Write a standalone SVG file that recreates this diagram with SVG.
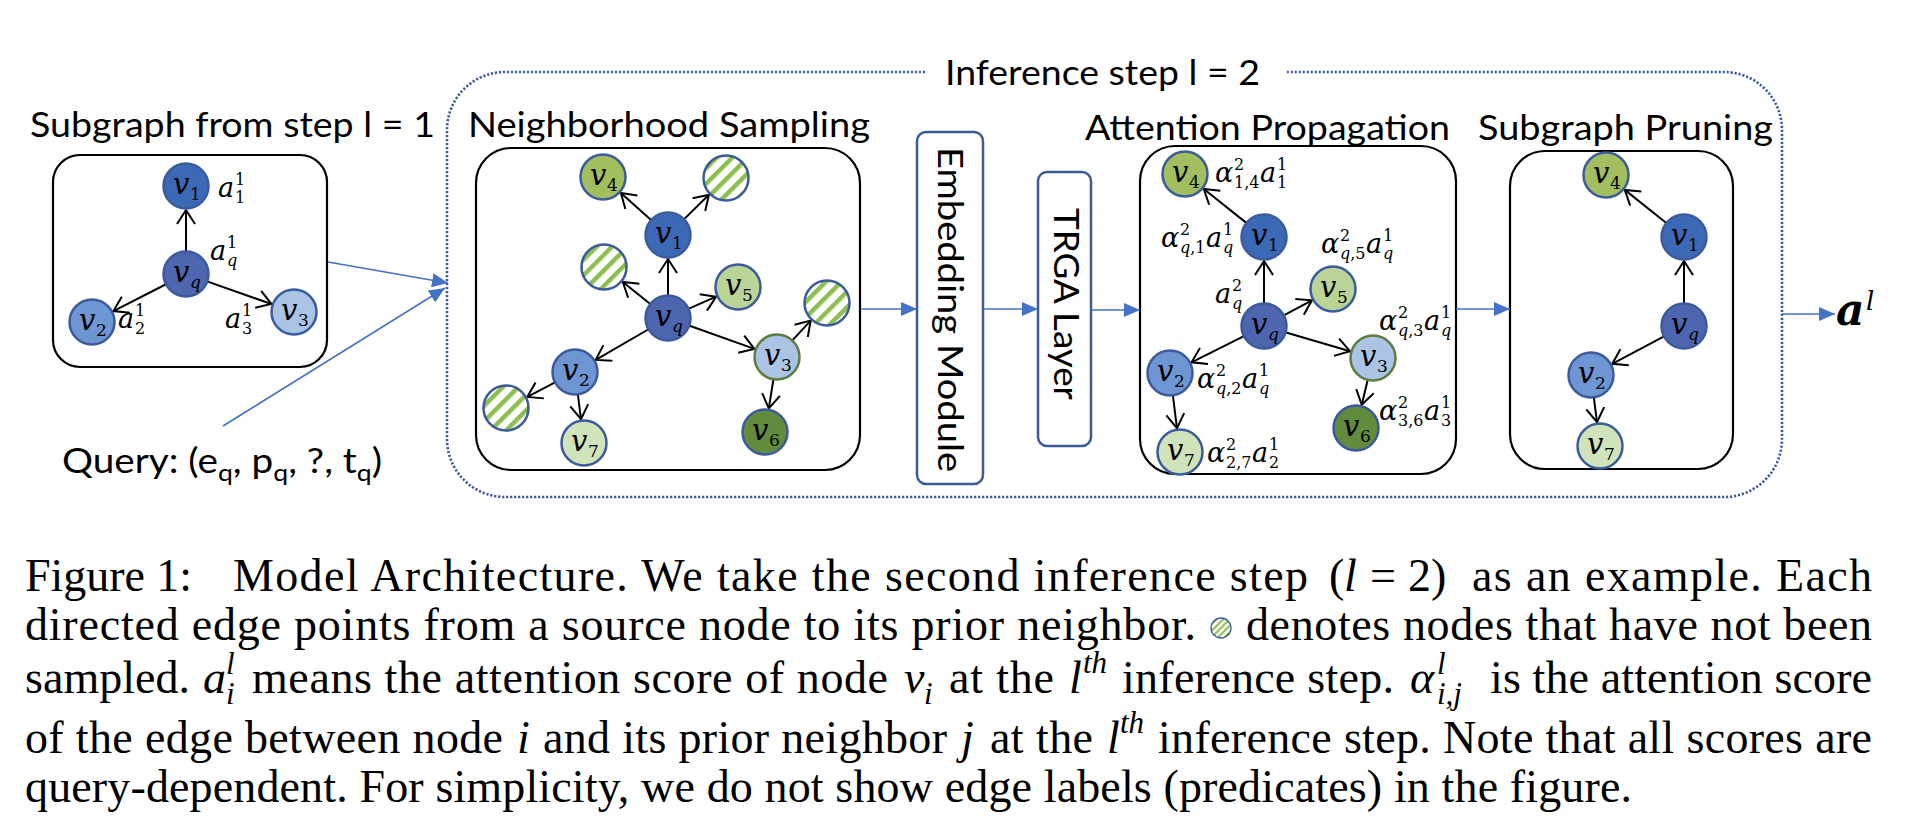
<svg xmlns="http://www.w3.org/2000/svg" width="1906" height="832" viewBox="0 0 1906 832">
<style>
.ttl{font-family:Lato,"Open Sans","Liberation Sans",sans-serif;font-size:35px;fill:#000}
.box{fill:none;stroke:#000;stroke-width:2.2}
.mod{fill:#fff;stroke:#3b5a9a;stroke-width:2.5}
.dash{fill:none;stroke:#3f5a98;stroke-width:2.6;stroke-dasharray:2.2 1.8}
.e{stroke:#000;stroke-width:2;fill:none;marker-end:url(#oh)}
.bl{stroke:#4472c4;stroke-width:1.6;fill:none;marker-end:url(#bh)}
.nd{stroke:#3b5b9d;stroke-width:2.5}
.g3{stroke:#5d7d3f}
.f1{fill:#3c69b5}.fq{fill:#4e65b0}.f2{fill:#6e96d2}.f3{fill:#abc4e5}.f4{fill:#a3be5e}.f5{fill:#bad497}.f6{fill:#628b3e}.f7{fill:#d0e3bb}.fh{fill:url(#hatch)}
.nv{font-family:"DejaVu Serif",serif;font-style:italic;font-size:29px;fill:#000}
.ns{font-family:"DejaVu Serif",serif;font-size:17px;fill:#000}
.mb{font-family:"DejaVu Serif",serif;font-style:italic;font-size:27px;fill:#000}
.ms{font-family:"DejaVu Serif",serif;font-size:16px;fill:#000}
.it{font-style:italic}
.cap{font-family:"Liberation Serif","Times New Roman",serif;font-size:46px;fill:#000}
.capi{font-family:"Liberation Serif","Times New Roman",serif;font-size:46px;font-style:italic;fill:#000}
.caps{font-family:"Liberation Serif","Times New Roman",serif;font-size:31px;font-style:italic;fill:#000}
</style>
<defs>
<pattern id="hatch" patternUnits="userSpaceOnUse" width="11" height="11" patternTransform="rotate(45)">
<rect x="0" y="0" width="11" height="11" fill="#fff"/>
<rect x="0" y="0" width="4.5" height="11" fill="#8cbf4f"/>
</pattern>
<pattern id="hatchS" patternUnits="userSpaceOnUse" width="4.6" height="4.6" patternTransform="rotate(45)">
<rect x="0" y="0" width="4.6" height="4.6" fill="#fff"/>
<rect x="0" y="0" width="2" height="4.6" fill="#8cbf4f"/>
</pattern>
<marker id="oh" viewBox="0 0 16 20" refX="15" refY="10" markerWidth="16" markerHeight="20" markerUnits="userSpaceOnUse" orient="auto" overflow="visible">
<path d="M1,1 L15,10 L1,19" fill="none" stroke="#000" stroke-width="2"/>
</marker>
<marker id="bh" viewBox="0 0 16 14" refX="16" refY="7" markerWidth="16" markerHeight="14" markerUnits="userSpaceOnUse" orient="auto">
<path d="M0,0 L16,7 L0,14 z" fill="#4472c4"/>
</marker>
</defs>

<!-- Titles -->
<text class="ttl" x="30" y="137" textLength="405" lengthAdjust="spacingAndGlyphs">Subgraph from step l = 1</text>
<text class="ttl" x="468" y="137" textLength="402" lengthAdjust="spacingAndGlyphs">Neighborhood Sampling</text>
<text class="ttl" x="1085" y="140" textLength="365" lengthAdjust="spacingAndGlyphs">Attention Propagation</text>
<text class="ttl" x="1478" y="140" textLength="295" lengthAdjust="spacingAndGlyphs">Subgraph Pruning</text>
<text class="ttl" x="945" y="85" textLength="315" lengthAdjust="spacingAndGlyphs">Inference step l = 2</text>
<text class="ttl" x="62" y="473" textLength="320" lengthAdjust="spacingAndGlyphs">Query: (e<tspan font-size="24" dy="8">q</tspan><tspan dy="-8">, p</tspan><tspan font-size="24" dy="8">q</tspan><tspan dy="-8">, ?, t</tspan><tspan font-size="24" dy="8">q</tspan><tspan dy="-8">)</tspan></text>

<!-- Dotted inference frame -->
<path class="dash" d="M925,72 H505 A58,58 0 0 0 447,130 V439 A58,58 0 0 0 505,497 H1724 A58,58 0 0 0 1782,439 V130 A58,58 0 0 0 1724,72 H1287"/>

<!-- Boxes -->
<g id="box1"><rect class="box" x="53" y="155" width="274" height="212" rx="27"/></g>
<g id="box2"><rect class="box" x="476" y="148" width="384" height="322" rx="35"/></g>
<g id="box3"><rect class="box" x="1140" y="146" width="316" height="328" rx="35"/></g>
<g id="box4"><rect class="box" x="1510" y="151" width="223" height="318" rx="35"/></g>
<g id="embedding">
<rect class="mod" x="917" y="132" width="66" height="352" rx="9"/>
<text class="ttl" transform="translate(938,147) rotate(90)" x="0" y="0" textLength="325" lengthAdjust="spacingAndGlyphs">Embedding Module</text>
</g>
<g id="trga">
<rect class="mod" x="1038" y="172" width="53" height="274" rx="9"/>
<text class="ttl" transform="translate(1054,208) rotate(90)" x="0" y="0" textLength="192" lengthAdjust="spacingAndGlyphs">TRGA Layer</text>
</g>

<!-- Connectors -->
<g id="connectors">
<line class="bl" x1="328" y1="262" x2="448" y2="283"/>
<line class="bl" x1="223" y1="426" x2="445" y2="288"/>
<line class="bl" x1="861" y1="309" x2="917" y2="309"/>
<line class="bl" x1="983" y1="309" x2="1038" y2="309"/>
<line class="bl" x1="1091" y1="310" x2="1140" y2="310"/>
<line class="bl" x1="1456" y1="309" x2="1510" y2="309"/>
<line class="bl" x1="1782" y1="314" x2="1835" y2="314"/>
<line class="e" x1="186" y1="251" x2="186" y2="210"/>
<line class="e" x1="165.5" y1="284.5" x2="113.4" y2="311.1"/>
<line class="e" x1="207.7" y1="281.6" x2="271.4" y2="304"/>
<line class="e" x1="650.8" y1="219.7" x2="620.9" y2="193"/>
<line class="e" x1="684.4" y1="218.9" x2="708.9" y2="194.8"/>
<line class="e" x1="668" y1="295" x2="668" y2="259"/>
<line class="e" x1="650" y1="303.7" x2="622.8" y2="282"/>
<line class="e" x1="689" y1="308.7" x2="716.1" y2="296.7"/>
<line class="e" x1="648.1" y1="329.5" x2="595.8" y2="359.9"/>
<line class="e" x1="689.6" y1="325.8" x2="754.4" y2="348.9"/>
<line class="e" x1="792.6" y1="340.1" x2="810.7" y2="320.6"/>
<line class="e" x1="773.4" y1="379.7" x2="768.8" y2="408.3"/>
<line class="e" x1="554.6" y1="382.6" x2="527.3" y2="396.9"/>
<line class="e" x1="577.9" y1="394.8" x2="581" y2="419.2"/>
<line class="e" x1="1246" y1="222.6" x2="1203.8" y2="189"/>
<line class="e" x1="1264" y1="303" x2="1264" y2="261"/>
<line class="e" x1="1284.3" y1="315.1" x2="1311.9" y2="300.3"/>
<line class="e" x1="1243.4" y1="336.3" x2="1191.5" y2="362.3"/>
<line class="e" x1="1286.1" y1="332.5" x2="1350" y2="351.2"/>
<line class="e" x1="1367.6" y1="380.4" x2="1361.7" y2="404.7"/>
<line class="e" x1="1172.9" y1="395.8" x2="1177" y2="428.2"/>
<line class="e" x1="1666" y1="222.7" x2="1624.8" y2="189.9"/>
<line class="e" x1="1684" y1="303" x2="1684" y2="261"/>
<line class="e" x1="1663.6" y1="336.7" x2="1612.2" y2="363.8"/>
<line class="e" x1="1593.9" y1="397.8" x2="1597" y2="422.2"/>
</g>

<!-- Box 1 nodes -->
<g id="s1-v1"><circle class="nd f1" cx="186" cy="186" r="22.5"/><text class="nv" x="173" y="194">v</text><text class="ns" x="190" y="200">1</text></g>
<g id="s1-vq"><circle class="nd fq" cx="186" cy="274" r="22.5"/><text class="nv" x="173" y="282">v</text><text class="ns it" x="190" y="288">q</text></g>
<g id="s1-v2"><circle class="nd f2" cx="92" cy="322" r="22.5"/><text class="nv" x="79" y="330">v</text><text class="ns" x="96" y="336">2</text></g>
<g id="s1-v3"><circle class="nd f3" cx="294" cy="312" r="22.5"/><text class="nv" x="281" y="320">v</text><text class="ns" x="298" y="326">3</text></g>
<g id="s1-labels">
<text class="mb" x="218" y="197">a</text><text class="ms" x="235" y="185">1</text><text class="ms" x="235" y="203">1</text>
<text class="mb" x="210" y="260">a</text><text class="ms" x="227" y="248">1</text><text class="ms it" x="227" y="266">q</text>
<text class="mb" x="118" y="328">a</text><text class="ms" x="135" y="316">1</text><text class="ms" x="135" y="334">2</text>
<text class="mb" x="225" y="328">a</text><text class="ms" x="242" y="316">1</text><text class="ms" x="242" y="334">3</text>
</g>

<!-- Box 2 nodes -->
<g id="s2-v4"><circle class="nd f4" cx="603" cy="177" r="22.5"/><text class="nv" x="590" y="185">v</text><text class="ns" x="607" y="191">4</text></g>
<g id="s2-h1"><circle class="nd fh" cx="726" cy="178" r="22.5"/></g>
<g id="s2-v1"><circle class="nd f1" cx="668" cy="235" r="22.5"/><text class="nv" x="655" y="243">v</text><text class="ns" x="672" y="249">1</text></g>
<g id="s2-h2"><circle class="nd fh" cx="604" cy="267" r="22.5"/></g>
<g id="s2-v5"><circle class="nd f5" cx="738" cy="287" r="22.5"/><text class="nv" x="725" y="295">v</text><text class="ns" x="742" y="301">5</text></g>
<g id="s2-vq"><circle class="nd fq" cx="668" cy="318" r="22.5"/><text class="nv" x="655" y="326">v</text><text class="ns it" x="672" y="332">q</text></g>
<g id="s2-h3"><circle class="nd fh" cx="827" cy="303" r="22.5"/></g>
<g id="s2-v3"><circle class="nd g3 f3" cx="777" cy="357" r="22.5"/><text class="nv" x="764" y="365">v</text><text class="ns" x="781" y="371">3</text></g>
<g id="s2-v2"><circle class="nd f2" cx="575" cy="372" r="22.5"/><text class="nv" x="562" y="380">v</text><text class="ns" x="579" y="386">2</text></g>
<g id="s2-h4"><circle class="nd fh" cx="506" cy="408" r="22.5"/></g>
<g id="s2-v7"><circle class="nd f7" cx="584" cy="443" r="22.5"/><text class="nv" x="571" y="451">v</text><text class="ns" x="588" y="457">7</text></g>
<g id="s2-v6"><circle class="nd f6" cx="765" cy="432" r="22.5"/><text class="nv" x="752" y="440">v</text><text class="ns" x="769" y="446">6</text></g>

<!-- Box 3 nodes -->
<g id="s3-v4"><circle class="nd f4" cx="1185" cy="174" r="22.5"/><text class="nv" x="1172" y="182">v</text><text class="ns" x="1189" y="188">4</text></g>
<g id="s3-v1"><circle class="nd f1" cx="1264" cy="237" r="22.5"/><text class="nv" x="1251" y="245">v</text><text class="ns" x="1268" y="251">1</text></g>
<g id="s3-v5"><circle class="nd f5" cx="1333" cy="289" r="22.5"/><text class="nv" x="1320" y="297">v</text><text class="ns" x="1337" y="303">5</text></g>
<g id="s3-vq"><circle class="nd fq" cx="1264" cy="326" r="22.5"/><text class="nv" x="1251" y="334">v</text><text class="ns it" x="1268" y="340">q</text></g>
<g id="s3-v3"><circle class="nd g3 f3" cx="1373" cy="358" r="22.5"/><text class="nv" x="1360" y="366">v</text><text class="ns" x="1377" y="372">3</text></g>
<g id="s3-v2"><circle class="nd f2" cx="1170" cy="373" r="22.5"/><text class="nv" x="1157" y="381">v</text><text class="ns" x="1174" y="387">2</text></g>
<g id="s3-v6"><circle class="nd f6" cx="1356" cy="428" r="22.5"/><text class="nv" x="1343" y="436">v</text><text class="ns" x="1360" y="442">6</text></g>
<g id="s3-v7"><circle class="nd f7" cx="1180" cy="452" r="22.5"/><text class="nv" x="1167" y="460">v</text><text class="ns" x="1184" y="466">7</text></g>
<g id="s3-labels">
<text class="mb" x="1215" y="182">α</text><text class="ms" x="1234" y="170">2</text><text class="ms" x="1234" y="188">1,4</text><text class="mb" x="1260" y="182">a</text><text class="ms" x="1277" y="170">1</text><text class="ms" x="1277" y="188">1</text>
<text class="mb" x="1161" y="247">α</text><text class="ms" x="1180" y="235">2</text><text class="ms" x="1180" y="253"><tspan class="it">q</tspan>,1</text><text class="mb" x="1206" y="247">a</text><text class="ms" x="1223" y="235">1</text><text class="ms it" x="1223" y="253">q</text>
<text class="mb" x="1321" y="253">α</text><text class="ms" x="1340" y="241">2</text><text class="ms" x="1340" y="259"><tspan class="it">q</tspan>,5</text><text class="mb" x="1366" y="253">a</text><text class="ms" x="1383" y="241">1</text><text class="ms it" x="1383" y="259">q</text>
<text class="mb" x="1215" y="303">a</text><text class="ms" x="1232" y="291">2</text><text class="ms it" x="1232" y="309">q</text>
<text class="mb" x="1379" y="330">α</text><text class="ms" x="1398" y="318">2</text><text class="ms" x="1398" y="336"><tspan class="it">q</tspan>,3</text><text class="mb" x="1424" y="330">a</text><text class="ms" x="1441" y="318">1</text><text class="ms it" x="1441" y="336">q</text>
<text class="mb" x="1197" y="388">α</text><text class="ms" x="1216" y="376">2</text><text class="ms" x="1216" y="394"><tspan class="it">q</tspan>,2</text><text class="mb" x="1242" y="388">a</text><text class="ms" x="1259" y="376">1</text><text class="ms it" x="1259" y="394">q</text>
<text class="mb" x="1379" y="420">α</text><text class="ms" x="1398" y="408">2</text><text class="ms" x="1398" y="426">3,6</text><text class="mb" x="1424" y="420">a</text><text class="ms" x="1441" y="408">1</text><text class="ms" x="1441" y="426">3</text>
<text class="mb" x="1207" y="462">α</text><text class="ms" x="1226" y="450">2</text><text class="ms" x="1226" y="468">2,7</text><text class="mb" x="1252" y="462">a</text><text class="ms" x="1269" y="450">1</text><text class="ms" x="1269" y="468">2</text>
</g>

<!-- Box 4 nodes -->
<g id="s4-v4"><circle class="nd f4" cx="1606" cy="175" r="22.5"/><text class="nv" x="1593" y="183">v</text><text class="ns" x="1610" y="189">4</text></g>
<g id="s4-v1"><circle class="nd f1" cx="1684" cy="237" r="22.5"/><text class="nv" x="1671" y="245">v</text><text class="ns" x="1688" y="251">1</text></g>
<g id="s4-vq"><circle class="nd fq" cx="1684" cy="326" r="22.5"/><text class="nv" x="1671" y="334">v</text><text class="ns it" x="1688" y="340">q</text></g>
<g id="s4-v2"><circle class="nd f2" cx="1591" cy="375" r="22.5"/><text class="nv" x="1578" y="383">v</text><text class="ns" x="1595" y="389">2</text></g>
<g id="s4-v7"><circle class="nd f7" cx="1600" cy="446" r="22.5"/><text class="nv" x="1587" y="454">v</text><text class="ns" x="1604" y="460">7</text></g>

<!-- Output -->
<g id="output">
<text x="1836" y="325" style="font-family:'DejaVu Serif',serif;font-weight:bold;font-style:italic;font-size:44px">a</text>
<text x="1866" y="310" style="font-family:'DejaVu Serif',serif;font-style:italic;font-size:26px">l</text>
</g>

<!-- Caption -->
<g id="caption">
<text class="cap" x="25" y="591" textLength="167" lengthAdjust="spacing">Figure 1:</text>
<text class="cap" x="233" y="591" textLength="1075" lengthAdjust="spacing">Model Architecture. We take the second inference step</text>
<text class="cap" x="1329" y="591">(</text><text class="capi" x="1344" y="591">l</text><text class="cap" x="1370" y="591">=</text><text class="cap" x="1408" y="591">2)</text>
<text class="cap" x="1472" y="591" textLength="400" lengthAdjust="spacing">as an example. Each</text>

<text class="cap" x="25" y="640" textLength="1171" lengthAdjust="spacing">directed edge points from a source node to its prior neighbor.</text>
<circle cx="1221" cy="628" r="10" fill="url(#hatchS)" stroke="#3b5b9d" stroke-width="1.3"/>
<text class="cap" x="1246" y="640" textLength="626" lengthAdjust="spacing">denotes nodes that have not been</text>

<text class="cap" x="25" y="693" textLength="165" lengthAdjust="spacing">sampled.</text>
<text class="capi" x="203" y="693">a</text><text class="caps" x="226" y="674">l</text><text class="caps" x="226" y="704">i</text>
<text class="cap" x="252" y="693" textLength="636" lengthAdjust="spacing">means the attention score of node</text>
<text class="capi" x="904" y="693">v</text><text class="caps" x="924" y="704">i</text>
<text class="cap" x="949" y="693" textLength="105" lengthAdjust="spacing">at the</text>
<text class="capi" x="1069" y="693">l</text><text class="caps" x="1083" y="673">th</text>
<text class="cap" x="1122" y="693" textLength="272" lengthAdjust="spacing">inference step.</text>
<text class="capi" x="1410" y="693">α</text><text class="caps" x="1437" y="674">l</text><text class="caps" x="1437" y="704">i,j</text>
<text class="cap" x="1490" y="693" textLength="382" lengthAdjust="spacing">is the attention score</text>

<text class="cap" x="25" y="753" textLength="478" lengthAdjust="spacing">of the edge between node</text>
<text class="capi" x="517" y="753">i</text>
<text class="cap" x="543" y="753" textLength="404" lengthAdjust="spacing">and its prior neighbor</text>
<text class="capi" x="961" y="753">j</text>
<text class="cap" x="990" y="753" textLength="103" lengthAdjust="spacing">at the</text>
<text class="capi" x="1107" y="753">l</text><text class="caps" x="1120" y="733">th</text>
<text class="cap" x="1158" y="753" textLength="714" lengthAdjust="spacing">inference step. Note that all scores are</text>

<text class="cap" x="25" y="802" textLength="1607" lengthAdjust="spacing">query-dependent. For simplicity, we do not show edge labels (predicates) in the figure.</text>
</g>
</svg>
